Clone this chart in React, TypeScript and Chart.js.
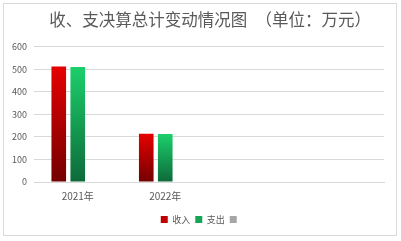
import React, { useEffect, useRef } from "react";
import { Chart, registerables } from "chart.js";

Chart.register(...registerables);

const categories = ["2021年", "2022年", "", ""];
const seriesNames = ["收入", "支出", ""];
const income = [513, 214, null, null];
const expense = [510, 213, null, null];
const other = [null, null, null, null];
const yTicks = [0, 100, 200, 300, 400, 500, 600];
const titleText = "收、支决算总计变动情况图　（单位：万元）";

const TEXT = "#595959";
const GRID = "#d9d9d9";
const FONT = "'Noto Sans CJK SC', 'Noto Sans', sans-serif";

const gradTop = ["#e60000", "#1ccf6b", "#a6a6a6"];
const gradBottom = ["#730000", "#0d6a3a", "#a6a6a6"];
const legendFill = ["#c00000", "#14a657", "#a6a6a6"];

function barFill(ds: number) {
  return (ctx: any) => {
    const chart = ctx.chart;
    const ys = chart.scales && chart.scales.y;
    if (ctx.type !== "data" || !ys || ctx.parsed == null || ctx.parsed.y == null) {
      return legendFill[ds];
    }
    const top = ys.getPixelForValue(ctx.parsed.y);
    const bottom = ys.getPixelForValue(0);
    if (!isFinite(top) || !isFinite(bottom) || top === bottom) return legendFill[ds];
    const g = chart.ctx.createLinearGradient(0, top, 0, bottom);
    g.addColorStop(0, gradTop[ds]);
    g.addColorStop(1, gradBottom[ds]);
    return g;
  };
}

const shiftPlugin = {
  id: "shiftBoxes",
  afterLayout(chart: any) {
    if (chart.titleBlock) {
      chart.titleBlock.left += 18;
      chart.titleBlock.right += 18;
    }
    if (chart.legend) {
      chart.legend.left += 9;
      chart.legend.right += 9;
    }
  },
};

export default function App() {
  const ref = useRef<HTMLCanvasElement | null>(null);
  useEffect(() => {
    if (!ref.current) return;
    const chart = new Chart(ref.current, {
      type: "bar",
      data: {
        labels: categories,
        datasets: [income, expense, other].map((d, i) => ({
          label: seriesNames[i],
          data: d,
          backgroundColor: barFill(i),
          borderWidth: 0,
          barPercentage: 0.77,
          categoryPercentage: 0.651,
        })),
      },
      plugins: [shiftPlugin],
      options: {
        animation: false,
        responsive: false,
        maintainAspectRatio: false,
        layout: { padding: { left: 0, right: 17, top: 0, bottom: 7 } },
        plugins: {
          title: {
            display: true,
            text: titleText,
            color: TEXT,
            font: { family: FONT, size: 16.5, weight: "normal" },
            padding: { top: 10, bottom: 17 },
          },
          legend: {
            display: true,
            position: "bottom",
            labels: {
              color: TEXT,
              font: { family: FONT, size: 9 },
              boxWidth: 7,
              boxHeight: 7,
              padding: 5,
              generateLabels: () =>
                seriesNames.map((n, i) => ({
                  text: n,
                  fillStyle: legendFill[i],
                  strokeStyle: legendFill[i],
                  lineWidth: 0,
                  hidden: false,
                  datasetIndex: i,
                  fontColor: TEXT,
                })),
            },
          },
          tooltip: { enabled: false },
        },
        scales: {
          x: {
            grid: { display: false, drawTicks: false },
            border: { display: true, color: GRID },
            ticks: {
              color: TEXT,
              font: { family: FONT, size: 10 },
              padding: 8,
              maxRotation: 0,
            },
          },
          y: {
            min: 0,
            max: 600,
            afterFit: (s: any) => {
              s.width = 34;
            },
            afterBuildTicks: (s: any) => {
              s.ticks = yTicks.map((v) => ({ value: v }));
            },
            grid: { color: GRID, drawTicks: false },
            border: { display: false },
            ticks: {
              color: TEXT,
              font: { family: FONT, size: 9 },
              padding: 7,
            },
          },
        },
      },
    });
    return () => chart.destroy();
  }, []);
  return (
    <div style={{ position: "fixed", left: 0, top: 0, width: 401, height: 241, background: "#fff" }}>
      <div
        style={{
          position: "absolute",
          left: 3,
          top: 3,
          width: 394,
          height: 233,
          boxSizing: "border-box",
          border: `1px solid ${GRID}`,
        }}
      />
      <canvas ref={ref} width={401} height={241} style={{ position: "absolute", left: 0, top: 0, width: 401, height: 241 }} />
    </div>
  );
}
